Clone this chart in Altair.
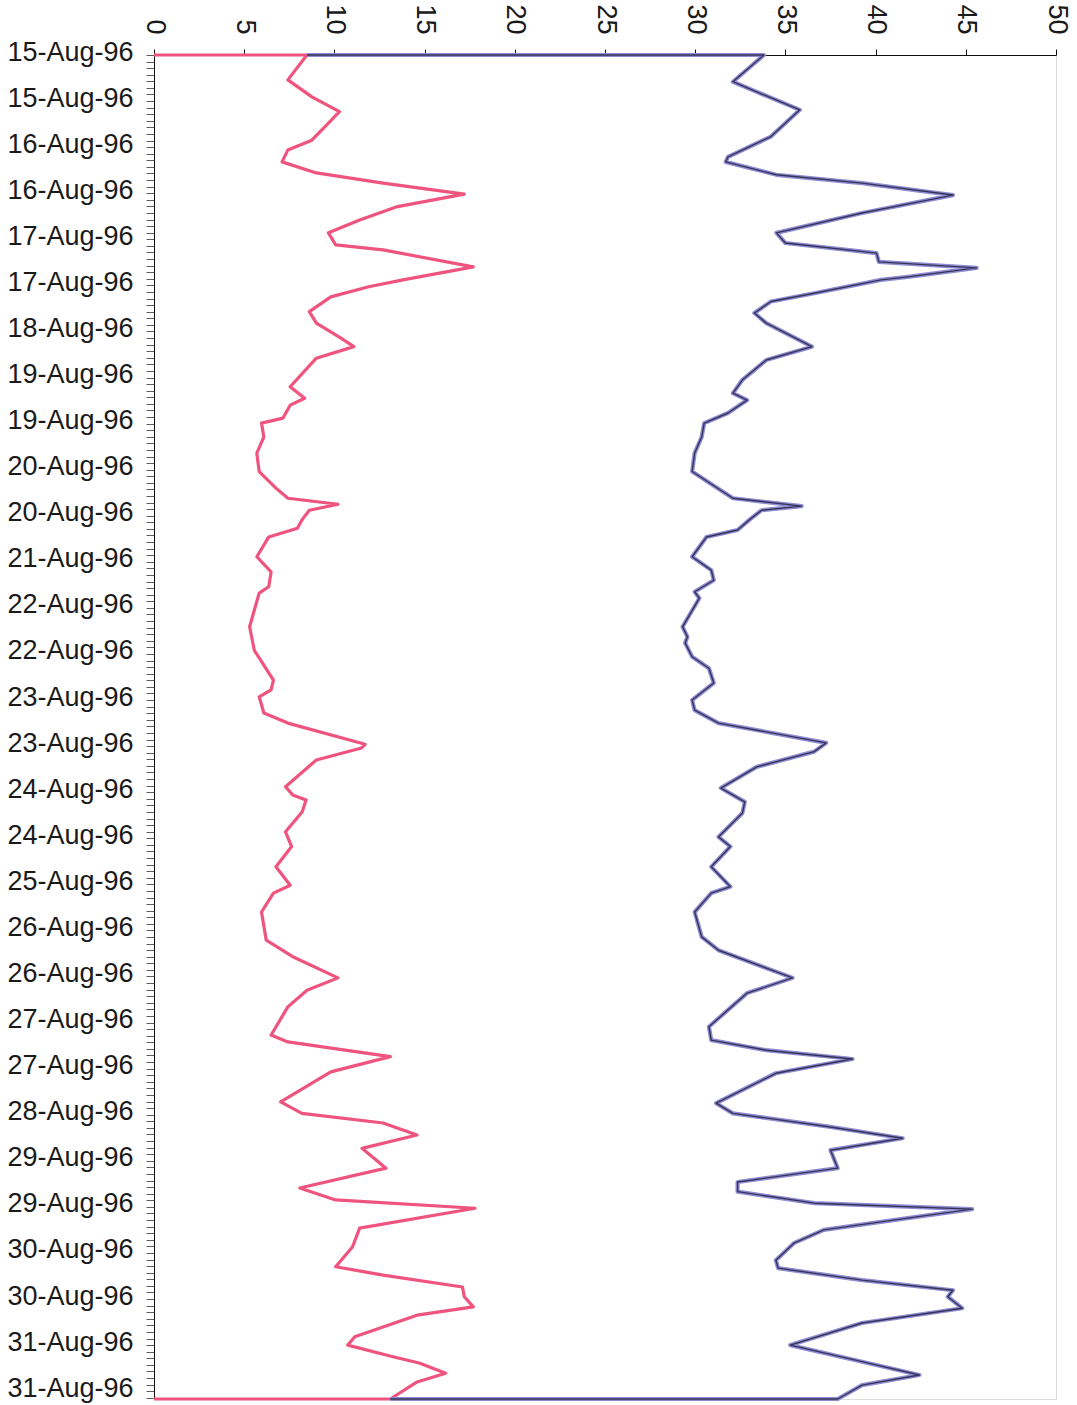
import altair as alt
import pandas as pd

# Date labels on the left axis (one label every 7 minor ticks)
tick_labels = ["15-Aug-96", "15-Aug-96", "16-Aug-96", "16-Aug-96", "17-Aug-96", "17-Aug-96",
               "18-Aug-96", "19-Aug-96", "19-Aug-96", "20-Aug-96", "20-Aug-96", "21-Aug-96",
               "22-Aug-96", "22-Aug-96", "23-Aug-96", "23-Aug-96", "24-Aug-96", "24-Aug-96",
               "25-Aug-96", "26-Aug-96", "26-Aug-96", "27-Aug-96", "27-Aug-96", "28-Aug-96",
               "29-Aug-96", "29-Aug-96", "30-Aug-96", "30-Aug-96", "31-Aug-96", "31-Aug-96"]
value_ticks = [0, 5, 10, 15, 20, 25, 30, 35, 40, 45, 50]
minor_per_label = 7
period_end = 29.17

# Pink series (period in label units, value)
pink_t = [0.0, 0.54, 0.91, 1.23, 1.48, 1.85, 2.06, 2.32, 2.56, 2.78, 3.02, 3.29, 3.58, 3.86,
          4.12, 4.23, 4.60, 4.88, 5.03, 5.25, 5.57, 5.82, 6.14, 6.33, 6.58, 7.20, 7.45, 7.60,
          7.88, 7.99, 8.29, 8.64, 9.04, 9.40, 9.62, 9.75, 9.88, 10.09, 10.27, 10.46, 10.89,
          11.22, 11.54, 11.68, 12.05, 12.41, 12.92, 13.57, 13.78, 13.93, 14.28, 14.50, 14.96,
          15.04, 15.30, 15.88, 16.06, 16.17, 16.43, 16.86, 17.18, 17.62, 18.02, 18.19, 18.60,
          19.21, 19.57, 20.03, 20.30, 20.66, 21.27, 21.42, 21.74, 22.07, 22.72, 22.97, 23.18,
          23.44, 23.73, 24.16, 24.59, 24.85, 25.03, 25.46, 25.87, 26.30, 26.48, 26.74, 26.95,
          27.17, 27.35, 27.82, 28.00, 28.26, 28.39, 28.61, 28.80, 29.17]
pink_v = [8.48, 7.42, 8.75, 10.28, 9.67, 8.75, 7.42, 7.10, 9.00, 12.70, 17.20, 13.50, 11.40,
          9.67, 10.07, 12.70, 17.70, 13.80, 11.90, 9.80, 8.61, 9.00, 10.34, 11.08, 9.00, 7.55,
          8.35, 7.55, 7.15, 5.96, 6.09, 5.70, 5.83, 6.76, 7.42, 10.20, 8.61, 8.20, 7.95, 6.36,
          5.70, 6.49, 6.36, 5.83, 5.56, 5.30, 5.56, 6.62, 6.49, 5.83, 6.09, 7.42, 11.70, 11.50,
          9.00, 7.29, 7.69, 8.43, 8.21, 7.29, 7.63, 6.76, 7.55, 6.62, 5.96, 6.22, 7.69, 10.20,
          8.48, 7.42, 6.49, 7.42, 13.10, 9.80, 7.02, 8.20, 12.70, 14.58, 11.53, 12.86, 8.08,
          10.07, 17.80, 11.40, 11.00, 10.07, 12.70, 17.10, 17.20, 17.70, 14.58, 11.13, 10.74,
          13.30, 14.70, 16.17, 14.58, 13.10]

# Blue series
blue_t = [0.0, 0.58, 0.80, 1.19, 1.77, 2.21, 2.32, 2.60, 2.78, 3.04, 3.43, 3.86, 4.08, 4.30,
          4.49, 4.62, 4.81, 4.88, 5.17, 5.35, 5.60, 5.82, 6.33, 6.62, 7.05, 7.34, 7.49, 7.77,
          7.99, 8.29, 8.64, 9.04, 9.62, 9.79, 9.88, 10.09, 10.31, 10.46, 10.89, 11.18, 11.40,
          11.65, 11.79, 12.41, 12.63, 12.76, 13.06, 13.31, 13.63, 14.00, 14.22, 14.50, 14.93,
          15.12, 15.45, 15.91, 16.21, 16.45, 16.97, 17.18, 17.62, 18.05, 18.19, 18.60, 19.14,
          19.43, 20.03, 20.36, 21.09, 21.38, 21.60, 21.79, 22.10, 22.75, 22.97, 23.26, 23.51,
          23.77, 24.16, 24.46, 24.67, 24.92, 25.05, 25.50, 25.78, 26.16, 26.33, 26.59, 26.81,
          26.95, 27.20, 27.52, 28.00, 28.36, 28.65, 28.87, 29.17]
blue_v = [33.81, 32.09, 33.41, 35.80, 34.20, 31.82, 31.69, 34.50, 39.25, 44.29, 39.25, 34.50,
          35.00, 40.05, 40.18, 45.60, 41.90, 40.30, 36.60, 34.20, 33.28, 33.94, 36.47, 33.94,
          32.62, 32.09, 32.88, 31.82, 30.50, 30.36, 29.97, 29.83, 32.09, 35.90, 33.68, 33.00,
          32.35, 30.63, 29.83, 30.89, 31.03, 29.97, 30.23, 29.30, 29.57, 29.44, 29.83, 30.76,
          31.03, 29.83, 29.97, 31.29, 37.26, 36.60, 33.41, 31.42, 32.75, 32.62, 31.29, 31.95,
          30.89, 31.95, 30.89, 29.97, 30.36, 31.29, 35.40, 32.88, 30.76, 30.89, 33.94, 38.72,
          34.47, 31.16, 32.09, 37.40, 41.50, 37.50, 37.90, 32.35, 32.35, 36.60, 45.35, 37.13,
          35.50, 34.47, 34.60, 39.25, 44.29, 44.00, 44.80, 39.25, 35.27, 39.25, 42.43, 39.25,
          37.90]

# Area-style outlines: each series closes along the top and bottom edges
rows = []
pink_period = [0.0] + pink_t + [period_end]
pink_value = [0.0] + pink_v + [0.0]
for i, (t, v) in enumerate(zip(pink_period, pink_value)):
    rows.append({"series": "pink", "seq": i, "period": t, "value": v})
blue_period = [0.0] + blue_t + [period_end]
blue_value = [pink_v[0]] + blue_v + [pink_v[-1]]
for i, (t, v) in enumerate(zip(blue_period, blue_value)):
    rows.append({"series": "blue", "seq": i, "period": t, "value": v})
df = pd.DataFrame(rows)

n_minor = int(period_end * minor_per_label)
y_tick_values = [round(k / minor_per_label, 6) for k in range(0, n_minor + 1)]
label_array = "[" + ",".join("'" + s + "'" for s in tick_labels) + "]"
label_expr = ("abs(datum.value - round(datum.value)) < 0.001 ? " + label_array +
              "[round(datum.value)] : ''")

FONT = "Liberation Sans"

x_enc = alt.X("value:Q",
              scale=alt.Scale(domain=[0, 50], nice=False, zero=False),
              axis=alt.Axis(orient="top", values=value_ticks, labelAngle=90,
                            labelAlign="right", labelBaseline="middle",
                            labelPadding=15, tickSize=6, title=None, grid=False,
                            labelFontSize=27, labelFont=FONT, labelColor="#1a1a1a",
                            domainColor="#111111", tickColor="#111111"))
y_enc = alt.Y("period:Q",
              scale=alt.Scale(domain=[0, period_end], reverse=True, nice=False, zero=False),
              axis=alt.Axis(values=y_tick_values, labelExpr=label_expr, labelOverlap=False,
                            tickSize=8, labelPadding=13, labelOffset=-3, title=None, grid=False,
                            labelFontSize=27, labelFont=FONT, labelColor="#1a1a1a",
                            domainColor="#111111", tickColor="#333333", tickWidth=0.8,
                            labelBound=False, labelFlush=False))

base = alt.Chart(df).encode(x=x_enc, y=y_enc, order=alt.Order("seq:Q"))

pink = base.transform_filter(alt.datum.series == "pink").mark_line(
    color="#ef547f", strokeWidth=3.2, strokeJoin="round")
blue_halo = base.transform_filter(alt.datum.series == "blue").mark_line(
    color="#8f8bd4", strokeWidth=4.2, strokeJoin="round")
blue_core = base.transform_filter(alt.datum.series == "blue").mark_line(
    color="#26243f", strokeWidth=1.4, strokeJoin="round", opacity=0.85)

chart = alt.layer(pink, blue_halo, blue_core).properties(
    width=902, height=1344,
    autosize=alt.AutoSizeParams(type="none"),
    padding={"left": 154, "top": 55, "right": 21, "bottom": 6},
).configure_view(stroke="#666666", strokeWidth=1).configure(background="white")

chart.save("out.html", embed_options={"renderer": "svg", "actions": False})
